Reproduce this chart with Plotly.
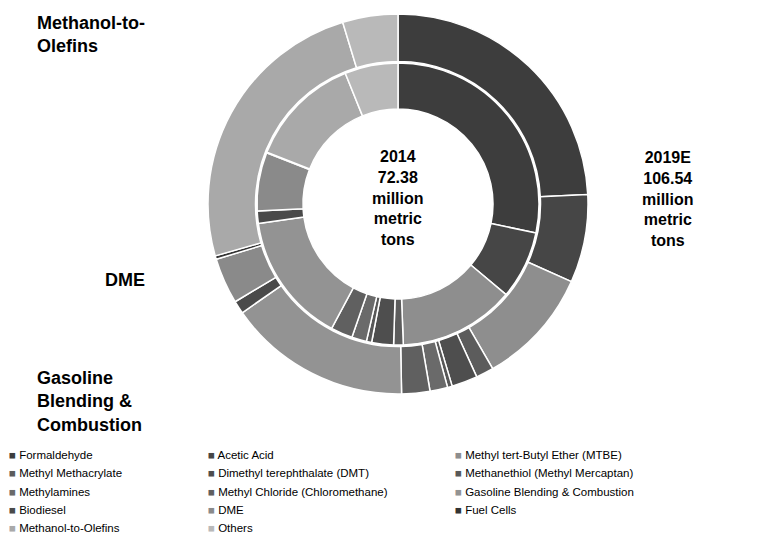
import plotly.graph_objects as go

# ---------------- data (estimated shares, % of total demand) ----------------
categories = [
    "Formaldehyde", "Acetic Acid", "Methyl tert-Butyl Ether (MTBE)",
    "Methyl Methacrylate", "Dimethyl terephthalate (DMT)", "Methanethiol (Methyl Mercaptan)",
    "Methylamines", "Methyl Chloride (Chloromethane)", "Gasoline Blending & Combustion",
    "Biodiesel", "DME", "Fuel Cells",
    "Methanol-to-Olefins", "Others",
]
share_2014 = [28.3, 7.8, 13.3, 1.1, 2.5, 0.6, 1.7, 2.5, 15.0, 1.4, 6.7, 0.1, 12.9, 6.1]
share_2019 = [24.2, 7.5, 10.0, 1.5, 2.2, 0.4, 1.5, 2.4, 15.6, 1.1, 3.9, 0.3, 24.7, 4.7]
total_2014 = 72.38
total_2019 = 106.54
year_labels = ["2014", "2019E"]

colors = ["#3d3d3d", "#464646", "#8e8e8e", "#5c5c5c", "#4e4e4e", "#585858", "#6a6a6a",
          "#606060", "#939393", "#4a4a4a", "#8a8a8a", "#333333", "#a9a9a9", "#b9b9b9"]

W, H = 765, 556
cx, cy = 390, 196          # donut centre (plot px)
R_out, R_mid, R_in = 190, 141, 95

values_2014 = [s * total_2014 / 100 for s in share_2014]
values_2019 = [s * total_2019 / 100 for s in share_2019]


def dom(r):
    return dict(x=[(cx - r) / W, (cx + r) / W],
                y=[(H - cy - r) / H, (H - cy + r) / H])


fig = go.Figure()
fig.add_trace(go.Pie(
    labels=categories, values=values_2019, name=year_labels[1],
    domain=dom(R_out), hole=(R_mid + 1.5) / R_out,
    sort=False, direction="clockwise", rotation=0,
    marker=dict(colors=colors, line=dict(color="white", width=1.5)),
    textinfo="none", hoverinfo="label+value+percent", showlegend=False,
))
fig.add_trace(go.Pie(
    labels=categories, values=values_2014, name=year_labels[0],
    domain=dom(R_mid), hole=R_in / R_mid,
    sort=False, direction="clockwise", rotation=0,
    marker=dict(colors=colors, line=dict(color="white", width=1.5)),
    textinfo="none", hoverinfo="label+value+percent", showlegend=False,
))

bold = dict(family="Liberation Sans, Arial, sans-serif", color="black")
ann = []
ann.append(dict(x=cx / W, y=1 - 190 / H, xref="paper", yref="paper", showarrow=False,
                text=f"<b>{year_labels[0]}<br>{total_2014:.2f}<br>million<br>metric<br>tons</b>",
                font=dict(size=16, **bold), align="center", xanchor="center", yanchor="middle"))
ann.append(dict(x=660 / W, y=1 - 191 / H, xref="paper", yref="paper", showarrow=False,
                text=f"<b>{year_labels[1]}<br>{total_2019:.2f}<br>million<br>metric<br>tons</b>",
                font=dict(size=16, **bold), align="center", xanchor="center", yanchor="middle"))
ann.append(dict(x=27 / W, y=1 - 3 / H, xref="paper", yref="paper", showarrow=False,
                text="<b>Methanol-to-<br>Olefins</b>", font=dict(size=18, **bold),
                align="left", xanchor="left", yanchor="top"))
ann.append(dict(x=95 / W, y=1 - 272 / H, xref="paper", yref="paper", showarrow=False,
                text="<b>DME</b>", font=dict(size=18, **bold),
                align="left", xanchor="left", yanchor="middle"))
ann.append(dict(x=27 / W, y=1 - 358 / H, xref="paper", yref="paper", showarrow=False,
                text="<b>Gasoline<br>Blending &<br>Combustion</b>", font=dict(size=18, **bold),
                align="left", xanchor="left", yanchor="top"))

# legend: 3 columns, filled row by row
col_x = [0, 199, 446]
row_y = [447, 465, 484, 502, 520]
for i, (lab, col) in enumerate(zip(categories, colors)):
    r, c = divmod(i, 3)
    ann.append(dict(
        x=col_x[c] / W, y=1 - row_y[r] / H, xref="paper", yref="paper", showarrow=False,
        text=f"<span style='color:{col}'>■</span> {lab}", borderpad=0,
        font=dict(size=11.5, family="Liberation Sans, Arial, sans-serif", color="black"),
        xanchor="left", yanchor="middle", align="left"))

fig.update_layout(
    width=W, height=H, margin=dict(l=0, r=0, t=0, b=0),
    paper_bgcolor="white", plot_bgcolor="white",
    showlegend=False, annotations=ann,
)
fig.write_html("out.html")
